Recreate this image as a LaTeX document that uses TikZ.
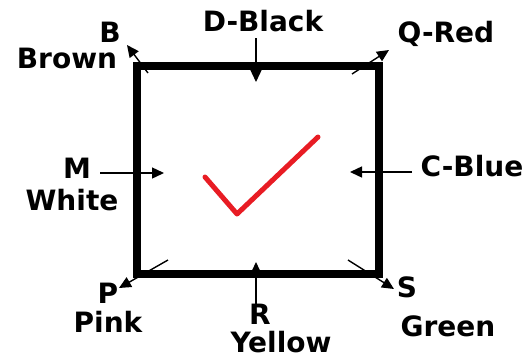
\documentclass[tikz,border=0pt]{standalone}
\usepackage{fontspec}
\setmainfont{DejaVu Sans}
\usetikzlibrary{arrows.meta}
\definecolor{tickred}{RGB}{232,28,36}
\begin{document}
\begin{tikzpicture}[x=1pt,y=-1pt,
  lbl/.style={inner sep=0pt,font=\fontsize{28}{30}\selectfont\bfseries},
  frame/.style={line width=8pt,line join=miter},
  pointer/.style={line width=1.4pt,-{Triangle[length=12pt,width=11pt]}},
  tick/.style={line width=5pt,tickred,line cap=round,line join=round}]
\useasboundingbox (0,0) rectangle (530,357);
% square
\draw[frame] (137,66) rectangle (379,274);
% check mark
\draw[tick] (205,177) -- (237,214) -- (318,137);
% labels
\node[lbl] (b) at (110,32) {B};
\node[lbl] (brown) at (67,58) {Brown};
\node[lbl] (dblack) at (263,21) {D-Black};
\node[lbl] (qred) at (446,34) {Q-Red};
\node[lbl] (m) at (77,168) {M};
\node[lbl] (white) at (72,200) {White};
\node[lbl] (cblue) at (472,166) {C-Blue};
\node[lbl] (p) at (108,293) {P};
\node[lbl] (pink) at (108,322) {Pink};
\node[lbl] (r) at (260,314) {R};
\node[lbl] (yellow) at (281,342.5) {Yellow};
\node[lbl] (s) at (407,287) {S};
\node[lbl] (green) at (448,326) {Green};
% connector end points
\coordinate (tlin) at (148,73);  \coordinate (tlout) at (127,45);
\coordinate (trin) at (352,74);  \coordinate (trout) at (389,50);
\coordinate (blin) at (168,260); \coordinate (blout) at (119,288);
\coordinate (brin) at (348,260); \coordinate (brout) at (394,289);
\coordinate (dtop) at (256,38);  \coordinate (dtip) at (256,82);
\coordinate (rbot) at (256,306); \coordinate (rtip) at (256,262);
\coordinate (mstart) at (100,173); \coordinate (mtip) at (164,173);
\coordinate (cstart) at (412,172); \coordinate (ctip) at (350,172);
% connectors
\draw[pointer] (tlin) -- (tlout);
\draw[pointer] (trin) -- (trout);
\draw[pointer] (blin) -- (blout);
\draw[pointer] (brin) -- (brout);
\draw[pointer] (dtop) -- (dtip);
\draw[pointer] (rbot) -- (rtip);
\draw[pointer] (mstart) -- (mtip);
\draw[pointer] (cstart) -- (ctip);
\end{tikzpicture}
\end{document}
